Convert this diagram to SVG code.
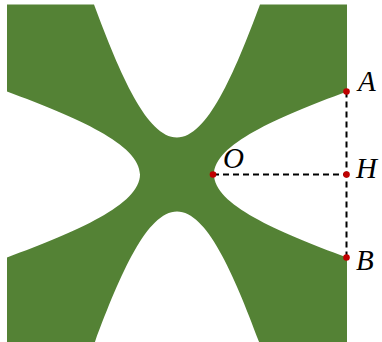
<svg xmlns="http://www.w3.org/2000/svg" width="382" height="342" viewBox="0 0 382 342">
<style>
.region{fill:#548235;stroke:none}
.dash{fill:none;stroke:#000;stroke-width:2;stroke-dasharray:6 4}
.pt{fill:#c00000}
.lbl{font-family:"Liberation Serif","Times New Roman",serif;font-style:italic;font-size:29px;fill:#000}
</style>
<rect width="382" height="342" fill="#fff"/>
<g id="region">
<path class="region" d="M7,4.5 H94 C120,74.5 147,137.5 177,137.5 C207,137.5 234,74.5 260,4.5 H347 V91.5 C277,117.5 214,144.5 214,174.5 C214,204.5 277,231.5 347,257.5 V344.5 H260 C234,274.5 207,211.5 177,211.5 C147,211.5 120,274.5 94,344.5 H7 V257.5 C77,231.5 140,204.5 140,174.5 C140,144.5 77,117.5 7,91.5 Z"/>
</g>
<g id="connectors">
<line class="dash" x1="213" y1="174.5" x2="346.5" y2="174.5"/>
<line class="dash" x1="346.5" y1="91.5" x2="346.5" y2="257.5"/>
</g>
<g id="O"><circle class="pt" cx="213" cy="174.5" r="3.3"/><text class="lbl" x="223" y="168">O</text></g>
<g id="A"><circle class="pt" cx="346.5" cy="91.5" r="3.3"/><text class="lbl" x="358" y="91">A</text></g>
<g id="H"><circle class="pt" cx="346.5" cy="174.5" r="3.3"/><text class="lbl" x="356" y="178">H</text></g>
<g id="B"><circle class="pt" cx="346.5" cy="257.5" r="3.3"/><text class="lbl" x="356" y="270">B</text></g>
</svg>
